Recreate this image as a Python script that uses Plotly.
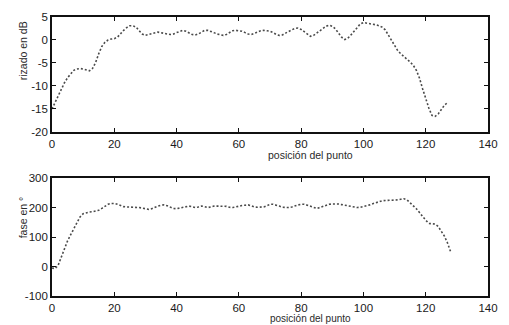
import plotly.graph_objects as go
from plotly.subplots import make_subplots

# Top panel: ripple in dB vs point position
pos_top = list(range(0, 128))
rizado_db = [
    -15.0, -13.5, -12.0, -10.6, -9.3, -8.2, -7.3, -6.6, -6.3, -6.2,
    -6.3, -6.5, -6.7, -6.2, -4.9, -3.0, -1.4, -0.5, 0.0, 0.2,
    0.3, 0.6, 1.4, 2.1, 2.7, 3.1, 3.1, 2.8, 2.0, 1.3,
    1.0, 1.2, 1.4, 1.6, 1.7, 1.6, 1.4, 1.3, 1.2, 1.3,
    1.6, 1.9, 2.1, 1.9, 1.5, 1.2, 1.1, 1.3, 1.7, 2.1,
    2.1, 1.9, 1.6, 1.3, 1.1, 1.0, 1.2, 1.6, 2.0, 2.1,
    2.0, 1.9, 1.6, 1.3, 1.2, 1.4, 1.7, 2.0, 2.1, 2.0,
    1.9, 1.6, 1.2, 1.0, 1.1, 1.5, 1.9, 2.2, 2.5, 2.6,
    2.3, 1.8, 1.2, 0.8, 1.0, 1.5, 2.1, 2.6, 3.0, 3.2,
    3.0, 2.4, 1.5, 0.6, 0.1, 0.4, 1.1, 1.9, 2.9, 3.5,
    3.8, 3.7, 3.6, 3.4, 3.3, 3.1, 2.8, 2.2, 1.1, 0.1,
    -1.2, -2.3, -3.0, -3.5, -4.2, -4.8, -5.5, -6.6, -8.3, -10.6,
    -12.8, -14.8, -16.4, -16.6, -16.1, -15.1, -14.2, -13.6,
]

# Bottom panel: phase in degrees vs point position
pos_bot = list(range(0, 129))
fase_grados = [
    -5, -7, 5, 32, 62, 87, 108, 128, 149, 168,
    179, 183, 185, 186, 188, 191, 197, 205, 211, 214,
    214, 211, 206, 203, 202, 202, 202, 201, 200, 198,
    196, 194, 196, 201, 205, 208, 209, 206, 201, 197,
    196, 198, 200, 203, 205, 203, 200, 202, 205, 203,
    200, 202, 205, 205, 205, 205, 204, 201, 200, 202,
    205, 207, 208, 209, 206, 202, 201, 201, 202, 206,
    211, 211, 209, 205, 201, 200, 200, 202, 206, 209,
    211, 211, 208, 205, 201, 197, 200, 204, 208, 211,
    212, 213, 212, 210, 208, 205, 203, 201, 200, 201,
    203, 205, 209, 213, 217, 221, 223, 224, 224, 225,
    225, 226, 228, 230, 226, 217, 207, 196, 183, 168,
    157, 146, 144, 144, 136, 120, 103, 80, 50,
]

x_ticks = [0, 20, 40, 60, 80, 100, 120, 140]
y_ticks_top = [-20, -15, -10, -5, 0, 5]
y_ticks_bot = [-100, 0, 100, 200, 300]

def lab(v):
    return str(v)  # ASCII hyphen for negatives, like the original

fig = make_subplots(rows=2, cols=1)

line_style = dict(color="#4a4a4a", width=1.6, dash="2px,2px")
fig.add_trace(go.Scatter(x=pos_top, y=rizado_db, mode="lines", line=line_style,
                         showlegend=False), row=1, col=1)
fig.add_trace(go.Scatter(x=pos_bot, y=fase_grados, mode="lines", line=line_style,
                         showlegend=False), row=2, col=1)

font = dict(family="Liberation Sans, Arial, sans-serif", size=11.5, color="#1a1a1a")
axis_common = dict(showline=True, linecolor="#111", linewidth=1.6, mirror="allticks",
                   ticks="inside", ticklen=4, tickwidth=1, tickcolor="#111",
                   showgrid=False, zeroline=False, tickfont=font)

fig.update_xaxes(range=[0, 140], tickvals=x_ticks, ticktext=[lab(v) for v in x_ticks],
                 **axis_common)
fig.update_yaxes(range=[-20, 5], tickvals=y_ticks_top,
                 ticktext=[lab(v) for v in y_ticks_top], row=1, col=1, **axis_common)
fig.update_yaxes(range=[-100, 300], tickvals=y_ticks_bot,
                 ticktext=[lab(v) for v in y_ticks_bot], row=2, col=1, **axis_common)

fig.update_layout(
    xaxis=dict(domain=[0, 1]), xaxis2=dict(domain=[0, 1]),
    yaxis=dict(domain=[0.588, 1.0]), yaxis2=dict(domain=[0.0, 0.4227]),
)

title_font = dict(family="Liberation Sans, Arial, sans-serif", size=10.5, color="#2a2a2a")
W, H = 509, 325
ml, mr, mt, mb = 52, 11, 17, 25.7
pw, ph = W - ml - mr, H - mt - mb

def px2paper(x, y):
    return (x - ml) / pw, (H - mb - y) / ph

ann = []
for txt, x, y, ang, sz in [("posición del punto", 316, 157, 0, 10.5),
                           ("posición del punto", 316, 322.5, 0, 10),
                           ("rizado en dB", 22, 51, -90, 10.5),
                           ("fase en °", 22, 220, -90, 10.5)]:
    px, py = px2paper(x, y)
    ann.append(dict(text=txt, x=px, y=py, xref="paper", yref="paper",
                    showarrow=False, textangle=ang, font=dict(title_font, size=sz),
                    xanchor="center", yanchor="middle"))

fig.update_layout(
    width=W, height=H,
    margin=dict(l=ml, r=mr, t=mt, b=mb),
    paper_bgcolor="white", plot_bgcolor="white",
    annotations=ann,
)

fig.write_html("out.html")
